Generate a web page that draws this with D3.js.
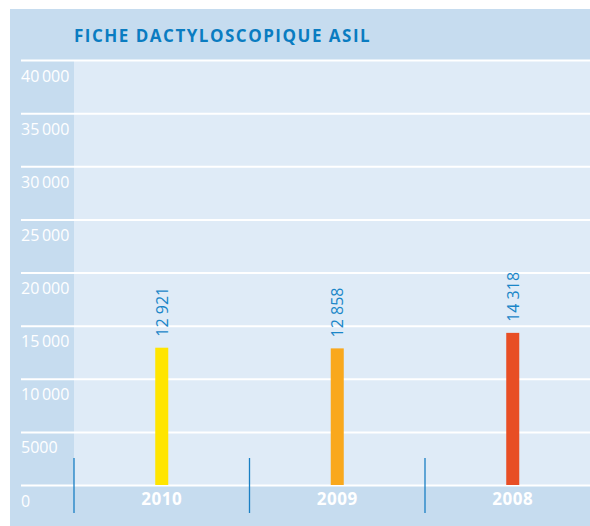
<!DOCTYPE html>
<meta charset="utf-8">
<style>
body { margin: 0; background: #fff; }
.tick text { font: 400 16px "Open Sans", sans-serif; fill: #fff; }
.year { font: 700 17px "Open Sans", sans-serif; fill: #fff; letter-spacing: 0.5px; }
.val { font: 400 16px "Open Sans", sans-serif; fill: #1a86c8; }
.title { font: 700 17px "Open Sans", sans-serif; fill: #0a7cc1; letter-spacing: 1.5px; }
</style>
<body>
<script src="https://cdn.jsdelivr.net/npm/d3@7"></script>
<script>

// chart values
const years = ["2010", "2009", "2008"];
const values = [12921, 12858, 14318];
const barColors = ["#ffe500", "#f9a81d", "#e84e25"];
const yTicks = [0, 5000, 10000, 15000, 20000, 25000, 30000, 35000, 40000];
const title = "FICHE DACTYLOSCOPIQUE ASIL";

const W = 590, H = 526;
const plot = {left: 74, right: 590, top: 60, bottom: 485};

const svg = d3.select("body").append("svg")
    .attr("width", W)
    .attr("height", H);

// background panel
svg.append("rect")
    .attr("x", 10).attr("y", 9)
    .attr("width", W - 10).attr("height", H - 9)
    .attr("fill", "#c6dcef");

svg.append("rect")
    .attr("x", plot.left).attr("y", plot.top)
    .attr("width", plot.right - plot.left).attr("height", plot.bottom - plot.top)
    .attr("fill", "#dfebf7");

// scales
const y = d3.scaleLinear().domain([0, 40000]).range([plot.bottom, plot.top]);
const x = d3.scaleBand().domain(years).range([plot.left, 600.5]).padding(0);
const barW = 13;

const fmtTick = v => v >= 10000 ? d3.format(",")(v).replace(",", "\u2009") : String(v);
const fmtVal = v => d3.format(",")(v).replace(",", " ");

// y axis: gridlines + labels
const yAxis = svg.append("g")
    .attr("transform", "translate(21,0)")
    .call(d3.axisRight(y).tickValues(yTicks).tickSize(W - 21).tickFormat(fmtTick));
yAxis.select(".domain").remove();
yAxis.selectAll(".tick line").attr("stroke", "#fff").attr("stroke-width", 2);
yAxis.selectAll(".tick text")
    .attr("x", 0).attr("dy", 0).attr("y", 21)
    .attr("text-anchor", "start");

// vertical separators
svg.append("g").selectAll("line")
  .data(years)
  .enter().append("line")
    .attr("x1", d => x(d)).attr("x2", d => x(d))
    .attr("y1", 458).attr("y2", 513)
    .attr("stroke", "#1a7fc4").attr("stroke-width", 1.3);

// bars
svg.append("g").selectAll("rect")
  .data(values)
  .enter().append("rect")
    .attr("x", (d, i) => x(years[i]) + x.bandwidth() / 2 - barW / 2)
    .attr("y", d => y(d))
    .attr("width", barW)
    .attr("height", d => plot.bottom - y(d))
    .attr("fill", (d, i) => barColors[i]);

// value labels
svg.append("g").selectAll("text")
  .data(values)
  .enter().append("text")
    .attr("class", "val")
    .attr("transform", (d, i) => "translate(" + (x(years[i]) + x.bandwidth() / 2 + 6) + "," + (y(d) - 11) + ") rotate(-90)")
    .text(d => fmtVal(d));

// year labels
svg.append("g").selectAll("text")
  .data(years)
  .enter().append("text")
    .attr("class", "year")
    .attr("x", d => x(d) + x.bandwidth() / 2)
    .attr("y", 505)
    .attr("text-anchor", "middle")
    .text(d => d);

// title
svg.append("text")
    .attr("class", "title")
    .attr("x", 74).attr("y", 42)
    .text(title);

</script>
</body>
